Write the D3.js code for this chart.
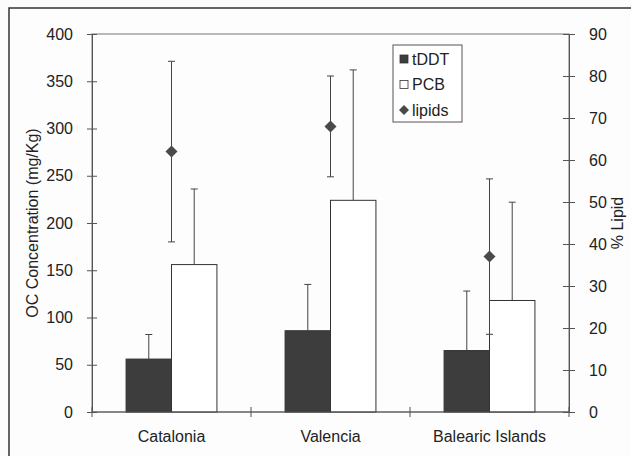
<!DOCTYPE html>
<html>
<head>
<meta charset="utf-8">
<script src="https://cdn.jsdelivr.net/npm/d3@7"></script>
<style>
  html, body { margin: 0; padding: 0; background: #fcfcfc; }
  svg { display: block; }
  text { font-family: "Liberation Sans", Arial, sans-serif; fill: #222; }
</style>
</head>
<body>
<svg id="chart" width="631" height="456"></svg>
<script>
var categories = ['Catalonia', 'Valencia', 'Balearic Islands'];
var series = ['tDDT', 'PCB'];
var tddt = [56, 86, 65];
var tddtErr = [26, 49, 63];
var pcb = [156, 224, 118];
var pcbErr = [80, 138, 104];
var lipids = [62, 68, 37];
var lipidsErr = [21.5, 12, 18.5];
var leftTicks = [0, 50, 100, 150, 200, 250, 300, 350, 400];
var rightTicks = [0, 10, 20, 30, 40, 50, 60, 70, 80, 90];

var svg = d3.select('#chart');
var plot = {left: 92, right: 569, top: 34, bottom: 412};
var dark = '#3d3d3d';
var axisColor = '#555';

// outer frame (right/bottom edges fall outside the picture)
svg.append('rect')
    .attr('x', 9).attr('y', 8)
    .attr('width', 700).attr('height', 500)
    .attr('fill', '#fdfdfd')
    .attr('stroke', '#333').attr('stroke-width', 1.5);

var x = d3.scaleBand().domain(categories).range([plot.left, plot.right]);
var yL = d3.scaleLinear().domain([0, 400]).range([plot.bottom, plot.top]);
var yR = d3.scaleLinear().domain([0, 90]).range([plot.bottom, plot.top]);

var groupW = x.bandwidth() * 2 / 3.5;
var xs = d3.scaleBand().domain(series).range([-groupW / 2, groupW / 2]);

// plot area border
svg.append('rect')
    .attr('x', plot.left).attr('y', plot.top)
    .attr('width', plot.right - plot.left).attr('height', plot.bottom - plot.top)
    .attr('fill', 'none')
    .attr('stroke', '#777').attr('stroke-width', 1);

var rows = categories.map(function(c, i) {
    return {
        cat: c,
        bars: [
            {s: 'tDDT', v: tddt[i], e: tddtErr[i]},
            {s: 'PCB', v: pcb[i], e: pcbErr[i]}
        ],
        lip: lipids[i],
        lipE: lipidsErr[i]
    };
});

var groups = svg.selectAll('g.grp').data(rows).enter().append('g')
    .attr('class', 'grp')
    .attr('transform', function(d) { return 'translate(' + (x(d.cat) + x.bandwidth() / 2) + ',0)'; });

var capW = 3.5;

// bar error bars (plus only), drawn first so bars cover nothing important
groups.selectAll('g.bar').data(function(d) { return d.bars; }).enter().append('g')
    .attr('class', 'bar')
    .each(function(b) {
        var g = d3.select(this);
        var cx = xs(b.s) + xs.bandwidth() / 2;
        g.append('path')
            .attr('d', 'M' + cx + ',' + yL(b.v) + 'V' + yL(b.v + b.e) +
                'M' + (cx - capW) + ',' + yL(b.v + b.e) + 'H' + (cx + capW))
            .attr('stroke', '#444').attr('stroke-width', 1).attr('fill', 'none');
        g.append('rect')
            .attr('x', xs(b.s))
            .attr('y', yL(b.v))
            .attr('width', xs.bandwidth())
            .attr('height', yL(0) - yL(b.v))
            .attr('fill', b.s === 'tDDT' ? dark : '#fff')
            .attr('stroke', '#333').attr('stroke-width', 1);
    });

// lipids: error bars (both ways) and diamonds on the right axis
groups.append('path')
    .attr('d', function(d) {
        var t = yR(d.lip + d.lipE), b = yR(d.lip - d.lipE);
        return 'M0,' + t + 'V' + b +
            'M' + (-capW) + ',' + t + 'H' + capW +
            'M' + (-capW) + ',' + b + 'H' + capW;
    })
    .attr('stroke', '#444').attr('stroke-width', 1).attr('fill', 'none');

function diamond(r) {
    return 'M0,' + (-r) + 'L' + r + ',0L0,' + r + 'L' + (-r) + ',0Z';
}

groups.append('path')
    .attr('d', diamond(6))
    .attr('transform', function(d) { return 'translate(0,' + yR(d.lip) + ')'; })
    .attr('fill', '#4a4a4a');

// left axis
var axL = svg.append('g')
    .attr('transform', 'translate(' + plot.left + ',0)')
    .call(d3.axisLeft(yL).tickValues(leftTicks).tickSize(5).tickPadding(14));
axL.select('.domain').attr('stroke', axisColor);
axL.selectAll('.tick line').attr('x1', -5).attr('x2', 5).attr('stroke', axisColor);
axL.selectAll('.tick text').attr('font-size', 16).attr('font-family', '"Liberation Sans", Arial, sans-serif').attr('fill', '#222');

// right axis
var axR = svg.append('g')
    .attr('transform', 'translate(' + plot.right + ',0)')
    .call(d3.axisRight(yR).tickValues(rightTicks).tickSize(6).tickPadding(14));
axR.select('.domain').attr('stroke', axisColor);
axR.selectAll('.tick line').attr('x1', -6).attr('x2', 6).attr('stroke', axisColor);
axR.selectAll('.tick text').attr('font-size', 16).attr('font-family', '"Liberation Sans", Arial, sans-serif').attr('fill', '#222');

// bottom axis: ticks between categories, labels centred
svg.append('line')
    .attr('x1', plot.left).attr('x2', plot.right)
    .attr('y1', plot.bottom).attr('y2', plot.bottom)
    .attr('stroke', axisColor);

var bounds = categories.map(function(c) { return x(c); }).concat([plot.right]);
svg.selectAll('line.xtick').data(bounds).enter().append('line')
    .attr('class', 'xtick')
    .attr('x1', function(d) { return d; }).attr('x2', function(d) { return d; })
    .attr('y1', plot.bottom - 5).attr('y2', plot.bottom + 5)
    .attr('stroke', axisColor);

svg.selectAll('text.xlab').data(categories).enter().append('text')
    .attr('class', 'xlab')
    .attr('x', function(d) { return x(d) + x.bandwidth() / 2; })
    .attr('y', 442)
    .attr('text-anchor', 'middle')
    .attr('font-size', 16)
    .text(function(d) { return d; });

// axis titles
svg.append('text')
    .attr('transform', 'translate(38,' + (plot.top + plot.bottom) / 2 + ') rotate(-90)')
    .attr('text-anchor', 'middle')
    .attr('font-size', 16)
    .text('OC Concentration (mg/Kg)');

svg.append('text')
    .attr('transform', 'translate(623,' + (plot.top + plot.bottom) / 2 + ') rotate(-90)')
    .attr('text-anchor', 'middle')
    .attr('font-size', 16)
    .text('% Lipid');

// legend
var legend = svg.append('g').attr('transform', 'translate(393,45)');
legend.append('rect')
    .attr('width', 69).attr('height', 77)
    .attr('fill', '#fff')
    .attr('stroke', '#555').attr('stroke-width', 1);

var legendItems = [
    {label: 'tDDT', kind: 'tddt'},
    {label: 'PCB', kind: 'pcb'},
    {label: 'lipids', kind: 'lipids'}
];
var li = legend.selectAll('g.li').data(legendItems).enter().append('g')
    .attr('class', 'li')
    .attr('transform', function(d, i) { return 'translate(0,' + (14 + i * 25.5) + ')'; });

li.each(function(d) {
    var g = d3.select(this);
    if(d.kind === 'lipids') {
        g.append('path').attr('d', diamond(5)).attr('transform', 'translate(11,0)').attr('fill', '#4a4a4a');
    } else {
        g.append('rect')
            .attr('x', 7).attr('y', -4).attr('width', 8).attr('height', 8)
            .attr('fill', d.kind === 'tddt' ? dark : '#fff')
            .attr('stroke', '#333').attr('stroke-width', 0.8);
    }
    g.append('text')
        .attr('x', 19).attr('y', 0).attr('dy', '0.35em')
        .attr('font-size', 16)
        .text(d.label);
});
</script>
</body>
</html>
